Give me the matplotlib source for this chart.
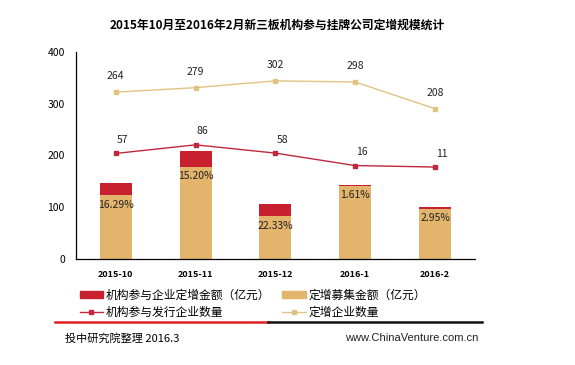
import matplotlib
matplotlib.use("Agg")
import matplotlib.pyplot as plt
from matplotlib.patches import Patch
from matplotlib.lines import Line2D
import numpy as np

plt.rcParams['font.family'] = ['Noto Sans CJK SC', 'DejaVu Sans']

categories = ['2015-10', '2015-11', '2015-12', '2016-1', '2016-2']
raise_total = [147, 209, 106, 143, 100]          # 定增募集金额（亿元）
inst_amount = [24, 31.8, 23.7, 2.3, 2.95]        # 机构参与企业定增金额（亿元）
pct_labels = ['16.29%', '15.20%', '22.33%', '1.61%', '2.95%']
inst_count = [57, 86, 58, 16, 11]                # 机构参与发行企业数量
total_count = [264, 279, 302, 298, 208]          # 定增企业数量

RED = '#C8202F'
TAN = '#E3B46C'
RED_LINE = '#C0283C'
TAN_LINE = '#E2C282'

fig = plt.figure(figsize=(5.75, 3.65), dpi=100)
ax = fig.add_axes([0.132, 0.290, 0.694, 0.568])
x = np.arange(len(categories))
tan_h = [t - i for t, i in zip(raise_total, inst_amount)]
ax.bar(x, tan_h, width=0.4, color=TAN, zorder=2)
ax.bar(x, inst_amount, width=0.4, bottom=tan_h, color=RED, zorder=2)
for xi, h, lab in zip(x, tan_h, pct_labels):
    ax.annotate(lab, (xi, h), xytext=(0, -3), textcoords='offset points',
                ha='center', va='top', fontsize=7.5, color='#222222', zorder=5)

ax.set_xlim(-0.5, 4.5)
ax.set_ylim(0, 400)
ax.set_yticks([0, 100, 200, 300, 400])
ax.set_xticks(x)
ax.set_xticklabels(categories, fontsize=6.5, fontweight='bold')
ax.tick_params(axis='y', length=0, labelsize=7.5, pad=8)
ax.tick_params(axis='x', length=0, pad=8)
for s in ['top', 'right']:
    ax.spines[s].set_visible(False)
ax.spines['left'].set_linewidth(0.9)
ax.spines['bottom'].set_linewidth(0.9)

ax2 = ax.twinx()
ax2.set_ylim(-300, 400)
ax2.axis('off')
ax2.plot(x, total_count, color=TAN_LINE, lw=1.0, marker='s', ms=3.5, zorder=3)
ax2.plot(x, inst_count, color=RED_LINE, lw=1.0, marker='s', ms=3.5, zorder=3)
for xi, v in zip(x, total_count):
    ax2.annotate(str(v), (xi, v), xytext=(0, 8), textcoords='offset points',
                 ha='center', va='bottom', fontsize=7.5, color='#222222')
for xi, v in zip(x, inst_count):
    ax2.annotate(str(v), (xi, v), xytext=(5, 6), textcoords='offset points',
                 ha='center', va='bottom', fontsize=7.5, color='#222222')

fig.text(0.482, 0.93, '2015年10月至2016年2月新三板机构参与挂牌公司定增规模统计',
         ha='center', va='center', fontsize=8.5, fontweight='bold')

handles = [Patch(color=RED),
           Line2D([], [], color=RED_LINE, lw=1, marker='s', ms=3),
           Patch(color=TAN),
           Line2D([], [], color=TAN_LINE, lw=1, marker='s', ms=3)]
labels = ['机构参与企业定增金额（亿元）', '机构参与发行企业数量', '定增募集金额（亿元）', '定增企业数量']
fig.legend(handles, labels, loc='upper left', bbox_to_anchor=(0.128, 0.225),
           ncol=2, frameon=False, fontsize=8.5, handlelength=2.0, handleheight=0.6,
           handletextpad=0.25, columnspacing=1.0, labelspacing=0.35, borderpad=0)

fig.add_artist(Line2D([55/575, 268/575], [1-322/365]*2, color='#E02020', lw=1.8))
fig.add_artist(Line2D([268/575, 482/575], [1-322/365]*2, color='#111111', lw=1.8))
fig.text(65/575, 1-338/365, '投中研究院整理 2016.3', ha='left', va='center', fontsize=8)
fig.text(478/575, 1-338/365, 'www.ChinaVenture.com.cn', ha='right', va='center', fontsize=8,
         color='#222222', family='Liberation Sans')

fig.savefig('out.png', dpi=100)
